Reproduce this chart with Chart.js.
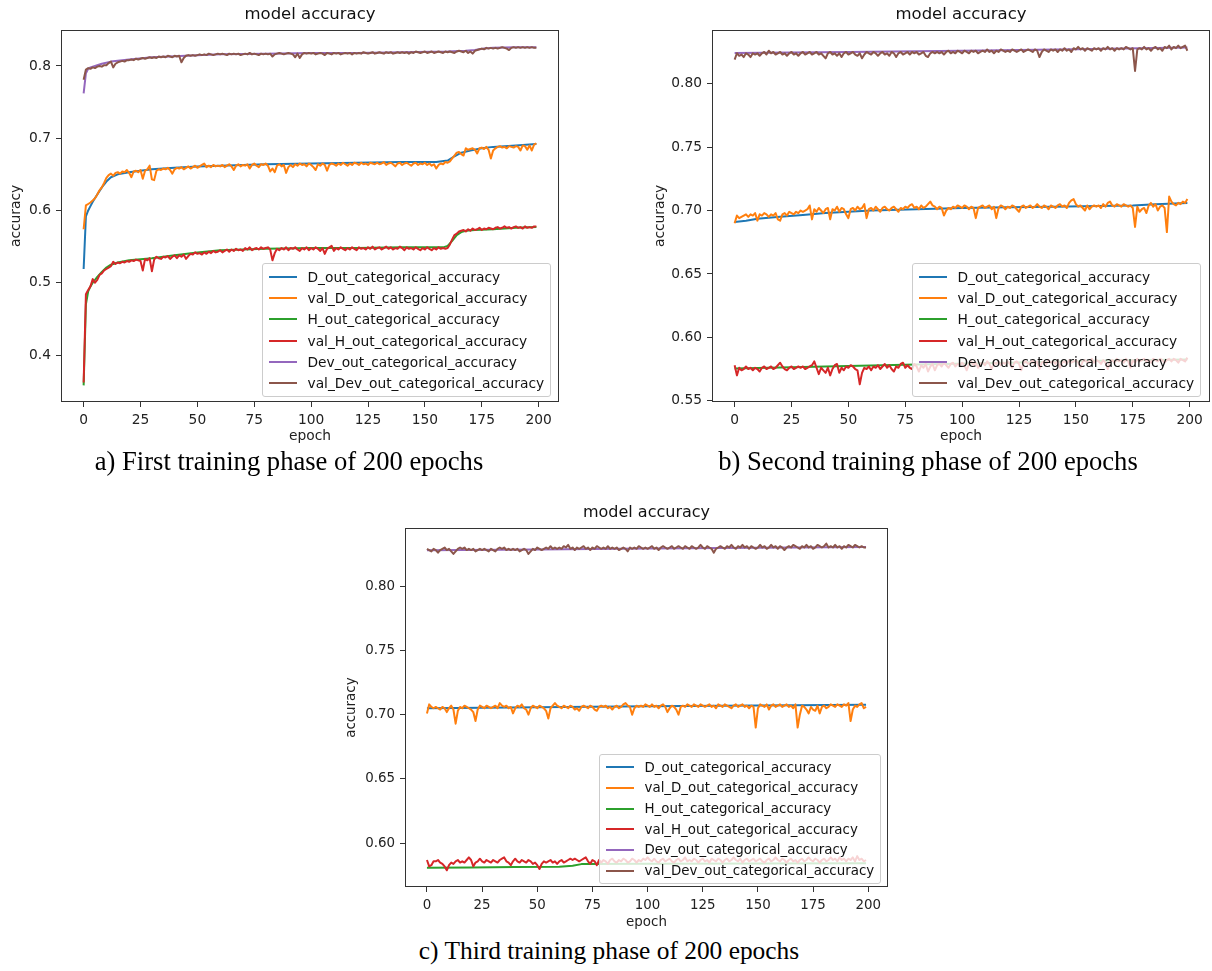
<!DOCTYPE html>
<html>
<head>
<meta charset="utf-8">
<title>model accuracy</title>
<script src="https://cdn.jsdelivr.net/npm/chart.js@4.4.1/dist/chart.umd.min.js"></script>
<style>
  html, body { margin: 0; padding: 0; background: #fff; }
  body { width: 1212px; height: 971px; position: relative; overflow: hidden; }
  canvas { position: absolute; }
  .legend { position: absolute; border: 1px solid #ccc; border-radius: 3px; background: rgba(255,255,255,0.8);
            font-family: 'DejaVu Sans', sans-serif; color: #111; }
  .legend .row { display: flex; align-items: center; white-space: nowrap; }
  .legend .swatch { width: 28px; height: 2px; margin-right: 11px; flex: none; }
  .caption { position: absolute; width: 600px; text-align: center; white-space: nowrap; color: #000;
             font-family: 'Liberation Serif', 'Times New Roman', serif; }
</style>
</head>
<body>
<script>
// ---- shared labels ----
const seriesNames = [
  'D_out_categorical_accuracy', 'val_D_out_categorical_accuracy',
  'H_out_categorical_accuracy', 'val_H_out_categorical_accuracy',
  'Dev_out_categorical_accuracy', 'val_Dev_out_categorical_accuracy'
];
const epochTicks = [0, 25, 50, 75, 100, 125, 150, 175, 200];
const yTicksA = [0.4, 0.5, 0.6, 0.7, 0.8];
const yTicksB = [0.55, 0.60, 0.65, 0.70, 0.75, 0.80];
const yTicksC = [0.60, 0.65, 0.70, 0.75, 0.80];

// ---- a) first training phase ----
const aDTrainEpochs = [0, 1, 2, 3, 4, 6, 8, 10, 12, 15, 20, 25, 30, 40, 50, 60, 80, 100, 120, 140, 155, 160, 163, 166, 170, 175, 180, 190, 199];
const aDTrain = [0.519, 0.592, 0.600, 0.606, 0.612, 0.622, 0.632, 0.640, 0.646, 0.650, 0.653, 0.655, 0.657, 0.659, 0.661, 0.662, 0.664, 0.665, 0.666, 0.667, 0.667, 0.669, 0.675, 0.680, 0.683, 0.686, 0.688, 0.690, 0.692];
const aValD = [
  0.574, 0.607, 0.609, 0.611, 0.614, 0.617, 0.622, 0.628, 0.632, 0.638,
  0.645, 0.649, 0.651, 0.648, 0.652, 0.653, 0.651, 0.654, 0.653, 0.656,
  0.652, 0.646, 0.654, 0.655, 0.653, 0.656, 0.644, 0.655, 0.657, 0.662,
  0.643, 0.642, 0.655, 0.657, 0.656, 0.658, 0.657, 0.659, 0.656, 0.651,
  0.657, 0.659, 0.658, 0.660, 0.657, 0.659, 0.661, 0.658, 0.660, 0.662,
  0.659, 0.661, 0.663, 0.665, 0.660, 0.662, 0.660, 0.663, 0.661, 0.662,
  0.661, 0.663, 0.660, 0.662, 0.664, 0.661, 0.656, 0.662, 0.664, 0.661,
  0.663, 0.662, 0.664, 0.658, 0.663, 0.665, 0.662, 0.660, 0.664, 0.663,
  0.665, 0.662, 0.654, 0.658, 0.653, 0.662, 0.664, 0.661, 0.663, 0.652,
  0.660, 0.663, 0.660, 0.664, 0.662, 0.665, 0.663, 0.664, 0.661, 0.665,
  0.663, 0.660, 0.656, 0.664, 0.662, 0.665, 0.663, 0.655, 0.663, 0.665,
  0.664, 0.662, 0.665, 0.663, 0.666, 0.664, 0.662, 0.665, 0.663, 0.666,
  0.665, 0.663, 0.666, 0.664, 0.665, 0.663, 0.666, 0.665, 0.664, 0.666,
  0.664, 0.665, 0.667, 0.663, 0.665, 0.666, 0.664, 0.661, 0.665, 0.666,
  0.663, 0.665, 0.666, 0.664, 0.662, 0.665, 0.666, 0.663, 0.665, 0.664,
  0.666, 0.663, 0.665, 0.662, 0.664, 0.658, 0.663, 0.665, 0.664, 0.667,
  0.666, 0.668, 0.672, 0.676, 0.680, 0.681, 0.678, 0.676, 0.686, 0.684,
  0.685, 0.686, 0.684, 0.679, 0.686, 0.687, 0.685, 0.688, 0.684, 0.672,
  0.683, 0.686, 0.688, 0.689, 0.687, 0.688, 0.686, 0.689, 0.688, 0.687,
  0.689, 0.688, 0.683, 0.690, 0.689, 0.684, 0.690, 0.683, 0.691, 0.693
];
const aHTrainEpochs = [0, 1, 2, 3, 4, 6, 8, 10, 12, 15, 20, 30, 40, 50, 60, 80, 100, 120, 140, 158, 160, 162, 164, 166, 168, 172, 180, 190, 199];
const aHTrain = [0.358, 0.470, 0.488, 0.495, 0.500, 0.508, 0.515, 0.521, 0.525, 0.528, 0.531, 0.534, 0.538, 0.542, 0.545, 0.547, 0.548, 0.548, 0.549, 0.549, 0.551, 0.558, 0.566, 0.570, 0.572, 0.573, 0.574, 0.576, 0.577];
const aValH = [
  0.362, 0.484, 0.490, 0.495, 0.505, 0.500, 0.504, 0.511, 0.513, 0.517,
  0.519, 0.521, 0.523, 0.529, 0.526, 0.528, 0.527, 0.529, 0.528, 0.530,
  0.529, 0.531, 0.530, 0.532, 0.531, 0.530, 0.517, 0.533, 0.531, 0.534,
  0.516, 0.532, 0.536, 0.534, 0.533, 0.536, 0.535, 0.537, 0.533, 0.536,
  0.538, 0.534, 0.538, 0.536, 0.539, 0.533, 0.537, 0.540, 0.539, 0.542,
  0.540, 0.541, 0.539, 0.542, 0.540, 0.543, 0.541, 0.544, 0.542, 0.543,
  0.545, 0.542, 0.544, 0.546, 0.543, 0.546, 0.544, 0.547, 0.545, 0.546,
  0.544, 0.548, 0.546, 0.549, 0.545, 0.547, 0.548, 0.546, 0.549, 0.547,
  0.548, 0.549, 0.546, 0.531, 0.541, 0.547, 0.545, 0.548, 0.546, 0.549,
  0.545, 0.548, 0.547, 0.549, 0.546, 0.544, 0.548, 0.546, 0.549, 0.545,
  0.548, 0.546, 0.549, 0.547, 0.544, 0.548, 0.540, 0.547, 0.549, 0.551,
  0.544, 0.548, 0.546, 0.549, 0.547, 0.545, 0.548, 0.546, 0.549, 0.547,
  0.545, 0.549, 0.547, 0.548, 0.546, 0.549, 0.547, 0.550, 0.546, 0.548,
  0.549, 0.546, 0.548, 0.550, 0.547, 0.549, 0.546, 0.548, 0.547, 0.550,
  0.548, 0.545, 0.549, 0.547, 0.548, 0.546, 0.549, 0.547, 0.545, 0.548,
  0.546, 0.549, 0.547, 0.545, 0.548, 0.546, 0.549, 0.547, 0.548, 0.547,
  0.548, 0.553, 0.560, 0.566, 0.568, 0.571, 0.572, 0.573, 0.571, 0.574,
  0.572, 0.575, 0.573, 0.574, 0.576, 0.573, 0.575, 0.574, 0.576, 0.575,
  0.574, 0.576, 0.577, 0.575, 0.576, 0.578, 0.576, 0.577, 0.575, 0.577,
  0.578, 0.576, 0.577, 0.575, 0.578, 0.576, 0.577, 0.576, 0.578, 0.578
];
const aDevTrainEpochs = [0, 1, 2, 3, 5, 8, 12, 20, 30, 45, 60, 80, 100, 120, 140, 160, 168, 172, 176, 180, 190, 199];
const aDevTrain = [0.762, 0.790, 0.796, 0.798, 0.800, 0.803, 0.806, 0.809, 0.812, 0.814, 0.816, 0.817, 0.818, 0.818, 0.819, 0.820, 0.821, 0.822, 0.824, 0.825, 0.826, 0.826];
const aValDev = [
  0.781, 0.795, 0.797, 0.796, 0.798, 0.797, 0.799, 0.800, 0.799, 0.801,
  0.801, 0.804, 0.806, 0.798, 0.803, 0.805, 0.806, 0.807, 0.806, 0.808,
  0.808, 0.809, 0.808, 0.810, 0.809, 0.810, 0.811, 0.810, 0.811, 0.812,
  0.811, 0.812, 0.811, 0.813, 0.812, 0.813, 0.812, 0.814, 0.813, 0.812,
  0.814, 0.813, 0.814, 0.805, 0.811, 0.814, 0.815, 0.814, 0.815, 0.814,
  0.815, 0.816, 0.815, 0.816, 0.815, 0.817, 0.816, 0.815, 0.816, 0.817,
  0.816, 0.817, 0.816, 0.815, 0.817, 0.816, 0.817, 0.816, 0.817, 0.815,
  0.816, 0.817, 0.816, 0.818, 0.816, 0.817, 0.816, 0.815, 0.817, 0.816,
  0.817, 0.816, 0.817, 0.813, 0.816, 0.817, 0.818, 0.817, 0.816, 0.817,
  0.818, 0.817, 0.816, 0.812, 0.817, 0.811, 0.816, 0.818, 0.817, 0.818,
  0.817, 0.818, 0.816, 0.817, 0.818, 0.817, 0.815, 0.818, 0.817, 0.816,
  0.818, 0.817, 0.818, 0.816, 0.817, 0.818, 0.817, 0.818, 0.816, 0.818,
  0.817, 0.818, 0.817, 0.819, 0.818, 0.817, 0.818, 0.819, 0.817, 0.818,
  0.819, 0.818, 0.817, 0.819, 0.818, 0.819, 0.817, 0.818, 0.819, 0.818,
  0.819, 0.818, 0.819, 0.817, 0.819, 0.818, 0.820, 0.819, 0.818, 0.819,
  0.820, 0.818, 0.819, 0.820, 0.818, 0.819, 0.820, 0.819, 0.818, 0.820,
  0.819, 0.820, 0.819, 0.818, 0.820, 0.821, 0.820, 0.819, 0.821, 0.818,
  0.820, 0.817, 0.821, 0.822, 0.823, 0.824, 0.823, 0.825, 0.824, 0.825,
  0.824, 0.825, 0.824, 0.825, 0.826, 0.825, 0.824, 0.822, 0.825, 0.826,
  0.825, 0.826, 0.825, 0.826, 0.825, 0.826, 0.825, 0.826, 0.825, 0.825
];

// ---- b) second training phase ----
const bDTrainEpochs = [0, 5, 10, 20, 30, 40, 60, 80, 100, 120, 140, 160, 175, 185, 199];
const bDTrain = [0.691, 0.692, 0.6935, 0.695, 0.6965, 0.698, 0.700, 0.701, 0.702, 0.7025, 0.703, 0.7035, 0.704, 0.705, 0.706];
const bValD = [
  0.690, 0.696, 0.694, 0.695, 0.696, 0.697, 0.695, 0.697, 0.696, 0.698,
  0.692, 0.697, 0.696, 0.698, 0.697, 0.695, 0.697, 0.696, 0.698, 0.693,
  0.692, 0.697, 0.698, 0.696, 0.699, 0.698, 0.697, 0.699, 0.698, 0.700,
  0.699, 0.700, 0.701, 0.704, 0.693, 0.701, 0.699, 0.702, 0.700, 0.698,
  0.701, 0.702, 0.693, 0.701, 0.700, 0.703, 0.699, 0.702, 0.701, 0.697,
  0.694, 0.701, 0.702, 0.700, 0.703, 0.701, 0.702, 0.705, 0.694, 0.701,
  0.702, 0.700, 0.703, 0.701, 0.699, 0.702, 0.703, 0.701, 0.700, 0.702,
  0.703, 0.701, 0.699, 0.702, 0.701, 0.703, 0.702, 0.704, 0.705, 0.702,
  0.703, 0.701, 0.704, 0.702, 0.703, 0.705, 0.707, 0.704, 0.703, 0.701,
  0.703, 0.702, 0.696, 0.700, 0.702, 0.701, 0.703, 0.702, 0.704, 0.703,
  0.702, 0.704, 0.703, 0.701, 0.703, 0.702, 0.694, 0.702, 0.703, 0.704,
  0.702, 0.703, 0.704, 0.701, 0.703, 0.694, 0.702, 0.704, 0.703, 0.701,
  0.703, 0.702, 0.704, 0.703, 0.701, 0.699, 0.703, 0.704, 0.702, 0.703,
  0.704, 0.702, 0.703, 0.705, 0.703, 0.702, 0.704, 0.703, 0.701, 0.704,
  0.703, 0.702, 0.704, 0.705, 0.703, 0.704, 0.702, 0.706, 0.708, 0.709,
  0.705, 0.703, 0.704, 0.702, 0.700, 0.704, 0.701, 0.703, 0.704, 0.703,
  0.704, 0.702, 0.705, 0.703, 0.706, 0.707, 0.704, 0.703, 0.705, 0.704,
  0.703, 0.705, 0.704, 0.703, 0.704, 0.702, 0.687, 0.703, 0.699, 0.701,
  0.702, 0.698, 0.704, 0.706, 0.703, 0.705, 0.700, 0.703, 0.704, 0.702,
  0.683, 0.711, 0.707, 0.705, 0.704, 0.706, 0.705, 0.707, 0.706, 0.709
];
const bHTrainEpochs = [0, 40, 80, 120, 160, 199];
const bHTrain = [0.5755, 0.577, 0.5785, 0.580, 0.5815, 0.5825];
const bValH = [
  0.578, 0.570, 0.576, 0.574, 0.575, 0.577, 0.575, 0.576, 0.574, 0.576,
  0.575, 0.573, 0.576, 0.577, 0.575, 0.576, 0.577, 0.575, 0.576, 0.578,
  0.580, 0.577, 0.575, 0.574, 0.576, 0.577, 0.575, 0.576, 0.577, 0.576,
  0.577, 0.575, 0.576, 0.577, 0.578, 0.581, 0.576, 0.571, 0.576, 0.574,
  0.572, 0.576, 0.570, 0.575, 0.578, 0.579, 0.572, 0.576, 0.574, 0.577,
  0.576, 0.578, 0.577, 0.575, 0.574, 0.563, 0.572, 0.576, 0.575, 0.577,
  0.574, 0.577, 0.576, 0.578, 0.575, 0.577, 0.579, 0.576, 0.578, 0.575,
  0.573, 0.577, 0.576, 0.579, 0.580, 0.576, 0.578, 0.576, 0.575, 0.579,
  0.577, 0.573, 0.578, 0.576, 0.579, 0.573, 0.577, 0.579, 0.574, 0.578,
  0.579, 0.577, 0.580, 0.578, 0.576, 0.579, 0.580, 0.577, 0.579, 0.578,
  0.580, 0.578, 0.574, 0.579, 0.581, 0.578, 0.580, 0.576, 0.579, 0.580,
  0.578, 0.581, 0.579, 0.575, 0.580, 0.579, 0.581, 0.578, 0.580, 0.579,
  0.581, 0.579, 0.576, 0.580, 0.581, 0.579, 0.574, 0.580, 0.581, 0.579,
  0.580, 0.582, 0.579, 0.581, 0.575, 0.580, 0.581, 0.579, 0.582, 0.580,
  0.581, 0.579, 0.582, 0.576, 0.580, 0.581, 0.579, 0.582, 0.580, 0.581,
  0.582, 0.580, 0.576, 0.581, 0.582, 0.580, 0.581, 0.583, 0.580, 0.582,
  0.581, 0.579, 0.582, 0.580, 0.575, 0.581, 0.582, 0.580, 0.583, 0.581,
  0.582, 0.580, 0.583, 0.581, 0.576, 0.582, 0.580, 0.583, 0.581, 0.582,
  0.583, 0.581, 0.582, 0.580, 0.583, 0.582, 0.581, 0.583, 0.582, 0.580,
  0.582, 0.583, 0.581, 0.583, 0.582, 0.580, 0.583, 0.582, 0.581, 0.584
];
const bDevTrainEpochs = [0, 50, 100, 150, 199];
const bDevTrain = [0.8243, 0.8250, 0.8260, 0.8272, 0.8285];
const bValDev = [
  0.819, 0.824, 0.822, 0.823, 0.821, 0.824, 0.823, 0.821, 0.824, 0.823,
  0.824, 0.822, 0.824, 0.825, 0.823, 0.826, 0.824, 0.825, 0.823, 0.824,
  0.825, 0.823, 0.824, 0.822, 0.824, 0.825, 0.823, 0.824, 0.822, 0.824,
  0.825, 0.823, 0.824, 0.825, 0.823, 0.824, 0.825, 0.823, 0.824, 0.822,
  0.820, 0.824, 0.825, 0.823, 0.824, 0.822, 0.824, 0.821, 0.824, 0.825,
  0.823, 0.824, 0.825, 0.823, 0.822, 0.824, 0.820, 0.823, 0.825, 0.824,
  0.823, 0.825, 0.824, 0.822, 0.824, 0.825, 0.823, 0.824, 0.822, 0.825,
  0.824, 0.821, 0.824, 0.825, 0.823, 0.824, 0.825, 0.823, 0.825, 0.824,
  0.825, 0.823, 0.824, 0.825, 0.822, 0.821, 0.824, 0.825, 0.824, 0.825,
  0.824, 0.825, 0.823, 0.825, 0.826, 0.824, 0.825, 0.824, 0.826, 0.825,
  0.824, 0.826, 0.825, 0.824, 0.826, 0.825, 0.826, 0.824, 0.825, 0.826,
  0.825, 0.827, 0.825, 0.826, 0.824, 0.826, 0.825, 0.827, 0.826, 0.825,
  0.826, 0.825, 0.827, 0.826, 0.825, 0.826, 0.827, 0.825, 0.826, 0.827,
  0.826, 0.825, 0.827, 0.826, 0.821, 0.825, 0.827, 0.826, 0.825, 0.827,
  0.826, 0.827, 0.825, 0.827, 0.826, 0.828, 0.826, 0.827, 0.825, 0.828,
  0.827, 0.829, 0.827, 0.828, 0.826, 0.828, 0.827, 0.826, 0.828, 0.827,
  0.828, 0.826, 0.828, 0.827, 0.829, 0.827, 0.828, 0.826, 0.828, 0.827,
  0.828, 0.827, 0.829, 0.828, 0.827, 0.828, 0.810, 0.827, 0.828, 0.827,
  0.829, 0.827, 0.828, 0.826, 0.828, 0.829, 0.827, 0.828, 0.826, 0.829,
  0.828, 0.830, 0.827, 0.829, 0.828, 0.830, 0.828, 0.829, 0.830, 0.826
];

// ---- c) third training phase ----
const cDTrainEpochs = [0, 50, 100, 150, 199];
const cDTrain = [0.7050, 0.7058, 0.7066, 0.7072, 0.7078];
const cValD = [
  0.701, 0.708, 0.706, 0.705, 0.706, 0.705, 0.704, 0.706, 0.705, 0.702,
  0.705, 0.707, 0.704, 0.693, 0.703, 0.706, 0.705, 0.707, 0.706, 0.705,
  0.704, 0.702, 0.695, 0.704, 0.707, 0.706, 0.705, 0.707, 0.706, 0.705,
  0.706, 0.707, 0.705, 0.709, 0.707, 0.706, 0.707, 0.705, 0.706, 0.701,
  0.705, 0.707, 0.706, 0.708, 0.705, 0.704, 0.700, 0.705, 0.707, 0.706,
  0.705, 0.707, 0.706, 0.705, 0.703, 0.697, 0.705, 0.707, 0.709, 0.707,
  0.706, 0.705, 0.707, 0.706, 0.705, 0.707, 0.706, 0.704, 0.705, 0.703,
  0.706, 0.707, 0.706, 0.705, 0.707, 0.706, 0.704, 0.703, 0.706, 0.707,
  0.706, 0.707, 0.705, 0.706, 0.704, 0.706, 0.707, 0.705, 0.706, 0.708,
  0.709, 0.707, 0.706, 0.700, 0.705, 0.707, 0.706, 0.707, 0.706, 0.708,
  0.707, 0.706, 0.708, 0.706, 0.707, 0.705, 0.707, 0.708, 0.706, 0.702,
  0.705, 0.707, 0.706, 0.704, 0.700, 0.706, 0.707, 0.706, 0.708, 0.707,
  0.706, 0.708, 0.707, 0.706, 0.708, 0.707, 0.706, 0.707, 0.708, 0.706,
  0.707, 0.705, 0.708, 0.707, 0.706, 0.708, 0.707, 0.706, 0.705, 0.707,
  0.708, 0.706, 0.707, 0.708, 0.706, 0.707, 0.705, 0.707, 0.706, 0.690,
  0.705, 0.708, 0.707, 0.706, 0.708, 0.704, 0.707, 0.708, 0.706, 0.707,
  0.708, 0.706, 0.707, 0.708, 0.706, 0.707, 0.705, 0.708, 0.690, 0.700,
  0.707, 0.706, 0.704, 0.701, 0.706, 0.704, 0.703, 0.707, 0.701, 0.706,
  0.707, 0.705, 0.706, 0.708, 0.707, 0.706, 0.708, 0.707, 0.706, 0.708,
  0.707, 0.709, 0.695, 0.704, 0.707, 0.706, 0.708, 0.709, 0.705, 0.706
];
const cHTrainEpochs = [0, 20, 40, 60, 66, 70, 100, 150, 199];
const cHTrain = [0.5810, 0.5812, 0.5815, 0.5818, 0.5825, 0.5838, 0.5840, 0.5842, 0.5845];
const cValH = [
  0.587, 0.582, 0.583, 0.586, 0.586, 0.587, 0.585, 0.584, 0.582, 0.579,
  0.583, 0.585, 0.584, 0.586, 0.587, 0.585, 0.586, 0.585, 0.587, 0.589,
  0.587, 0.582, 0.585, 0.586, 0.588, 0.586, 0.585, 0.587, 0.586, 0.585,
  0.587, 0.586, 0.585, 0.587, 0.588, 0.589, 0.586, 0.585, 0.583, 0.586,
  0.588, 0.586, 0.585, 0.587, 0.586, 0.585, 0.587, 0.586, 0.584, 0.585,
  0.583, 0.580, 0.584, 0.586, 0.585, 0.586, 0.587, 0.585, 0.586, 0.584,
  0.586, 0.587, 0.585, 0.586, 0.587, 0.588, 0.587, 0.588, 0.587, 0.586,
  0.587, 0.588, 0.589, 0.586, 0.584, 0.587, 0.586, 0.583, 0.587, 0.585,
  0.587, 0.586, 0.584, 0.587, 0.588, 0.586, 0.585, 0.587, 0.586, 0.588,
  0.587, 0.585, 0.586, 0.588, 0.587, 0.585, 0.587, 0.586, 0.588, 0.587,
  0.589, 0.587, 0.586, 0.588, 0.586, 0.585, 0.587, 0.588, 0.586, 0.587,
  0.588, 0.586, 0.585, 0.587, 0.588, 0.586, 0.587, 0.589, 0.586, 0.587,
  0.586, 0.588, 0.587, 0.585, 0.587, 0.588, 0.586, 0.587, 0.585, 0.588,
  0.587, 0.586, 0.588, 0.587, 0.585, 0.587, 0.588, 0.586, 0.587, 0.589,
  0.587, 0.586, 0.588, 0.585, 0.587, 0.588, 0.586, 0.587, 0.588, 0.586,
  0.587, 0.588, 0.586, 0.585, 0.587, 0.588, 0.586, 0.587, 0.589, 0.587,
  0.586, 0.588, 0.587, 0.585, 0.587, 0.588, 0.586, 0.587, 0.585, 0.587,
  0.588, 0.586, 0.587, 0.589, 0.587, 0.586, 0.588, 0.587, 0.585, 0.587,
  0.588, 0.586, 0.587, 0.589, 0.587, 0.588, 0.586, 0.589, 0.587, 0.588,
  0.586, 0.588, 0.587, 0.589, 0.586, 0.590, 0.587, 0.588, 0.586, 0.587
];
const cDevTrainEpochs = [0, 50, 100, 150, 199];
const cDevTrain = [0.8278, 0.8285, 0.8292, 0.8298, 0.8303];
const cValDev = [
  0.829, 0.828, 0.827, 0.829, 0.828, 0.826, 0.828, 0.829, 0.830, 0.828,
  0.829, 0.827, 0.825, 0.827, 0.829, 0.830, 0.829, 0.830, 0.828, 0.829,
  0.828, 0.829, 0.827, 0.828, 0.829, 0.828, 0.829, 0.828, 0.827, 0.829,
  0.828, 0.827, 0.829, 0.830, 0.829, 0.830, 0.828, 0.829, 0.828, 0.829,
  0.828, 0.829, 0.827, 0.828, 0.829, 0.828, 0.825, 0.827, 0.829, 0.828,
  0.830, 0.829, 0.828, 0.829, 0.830, 0.829, 0.831, 0.829, 0.830, 0.829,
  0.830, 0.829, 0.831, 0.830, 0.832, 0.829, 0.830, 0.828, 0.830, 0.829,
  0.830, 0.831, 0.829, 0.830, 0.828, 0.830, 0.829, 0.831, 0.830, 0.829,
  0.830, 0.829, 0.831, 0.829, 0.830, 0.829, 0.830, 0.828, 0.829, 0.830,
  0.829, 0.827, 0.830, 0.829, 0.830, 0.829, 0.831, 0.830, 0.829, 0.830,
  0.829, 0.830, 0.831, 0.829, 0.830, 0.828, 0.830, 0.831, 0.830, 0.829,
  0.830, 0.831, 0.829, 0.830, 0.831, 0.830, 0.829, 0.831, 0.830, 0.829,
  0.831, 0.830, 0.829, 0.830, 0.832, 0.830, 0.829, 0.831, 0.830, 0.829,
  0.826, 0.829, 0.830, 0.831, 0.830, 0.829, 0.831, 0.830, 0.832, 0.830,
  0.829, 0.831, 0.830, 0.832, 0.830, 0.831, 0.829, 0.831, 0.830, 0.829,
  0.830, 0.832, 0.830, 0.831, 0.829, 0.830, 0.832, 0.830, 0.831, 0.829,
  0.831, 0.830, 0.828, 0.830, 0.831, 0.830, 0.832, 0.831, 0.830, 0.829,
  0.831, 0.830, 0.832, 0.830, 0.831, 0.829, 0.830, 0.832, 0.831, 0.830,
  0.831, 0.833, 0.830, 0.831, 0.830, 0.832, 0.830, 0.831, 0.829, 0.831,
  0.830, 0.832, 0.831, 0.830, 0.832, 0.831, 0.830, 0.831, 0.830, 0.830
];

// matplotlib tab10 colours, same order as seriesNames
const seriesColors = ['#1f77b4', '#ff7f0e', '#2ca02c', '#d62728', '#9467bd', '#8c564b'];

Chart.defaults.font.family = "'DejaVu Sans', sans-serif";
Chart.defaults.color = '#222';

// full box around the plot area, like matplotlib spines
const frame = {
  id: 'frame',
  afterDraw(chart) {
    const { ctx, chartArea: a } = chart;
    ctx.save();
    ctx.strokeStyle = '#333';
    ctx.lineWidth = 1;
    ctx.strokeRect(Math.round(a.left) + 0.5, Math.round(a.top) + 0.5,
                   Math.round(a.right - a.left) - 1, Math.round(a.bottom - a.top) - 1);
    ctx.restore();
  }
};

function series(epochs, values) {
  return values.map((v, k) => ({ x: epochs ? epochs[k] : k, y: v }));
}

function buildPanel(p) {
  const canvas = document.createElement('canvas');
  canvas.width = p.w;
  canvas.height = p.h;
  canvas.style.left = p.left + 'px';
  canvas.style.top = p.top + 'px';
  document.body.appendChild(canvas);

  const datasets = p.lines.map((pts, i) => ({
    label: seriesNames[i],
    data: pts,
    borderColor: seriesColors[i],
    backgroundColor: seriesColors[i],
    borderWidth: 2,
    pointRadius: 0,
    fill: false,
    tension: 0,
    borderJoinStyle: 'round',
    order: 5 - i   // later series on top, as in matplotlib
  }));

  new Chart(canvas, {
    type: 'line',
    data: { datasets },
    options: {
      responsive: false,
      animation: false,
      devicePixelRatio: 1,
      events: [],
      layout: { padding: { left: 0, right: p.padRight, top: 0, bottom: 0 } },
      plugins: {
        legend: { display: false },
        tooltip: { enabled: false },
        title: {
          display: true, text: 'model accuracy', fullSize: false, color: '#111',
          font: { size: p.titleSize, weight: 'normal', lineHeight: 1.2 },
          padding: { top: p.titlePad, bottom: p.titlePad }
        }
      },
      scales: {
        x: {
          type: 'linear', min: -9.95, max: 208.95,
          afterBuildTicks: s => { s.ticks = epochTicks.map(v => ({ value: v })); },
          afterFit: s => { s.height = p.xH; },
          ticks: { color: '#222', font: { size: p.font }, padding: 5, maxRotation: 0, autoSkip: false,
                   callback: v => String(v) },
          grid: { drawOnChartArea: false, drawTicks: true, tickLength: 5, color: '#333' },
          border: { display: false },
          title: { display: true, text: 'epoch', color: '#222', font: { size: p.font },
                   padding: { top: 0, bottom: 5 } }
        },
        y: {
          type: 'linear', min: p.yMin, max: p.yMax,
          afterBuildTicks: s => { s.ticks = p.yTicks.map(v => ({ value: v })); },
          afterFit: s => { s.width = p.yW; },
          ticks: { color: '#222', font: { size: p.font }, padding: 5, autoSkip: false,
                   callback: v => v.toFixed(p.dec) },
          grid: { drawOnChartArea: false, drawTicks: true, tickLength: 5, color: '#333' },
          border: { display: false },
          title: { display: true, text: 'accuracy', color: '#222', font: { size: p.font },
                   padding: { top: p.yTitlePad, bottom: 0 } }
        }
      }
    },
    plugins: [frame]
  });

  // legend box inside the axes, lower right
  const box = document.createElement('div');
  box.className = 'legend';
  box.style.left = p.legLeft + 'px';
  box.style.top = p.legTop + 'px';
  box.style.fontSize = p.font + 'px';
  box.style.padding = p.legPadV + 'px 5.5px';
  seriesNames.forEach((name, i) => {
    const row = document.createElement('div');
    row.className = 'row';
    row.style.height = p.legRow + 'px';
    const sw = document.createElement('span');
    sw.className = 'swatch';
    sw.style.background = seriesColors[i];
    const tx = document.createElement('span');
    tx.textContent = name;
    row.append(sw, tx);
    box.appendChild(row);
  });
  document.body.appendChild(box);

  const cap = document.createElement('div');
  cap.className = 'caption';
  cap.textContent = p.caption;
  cap.style.left = (p.capX - 300) + 'px';
  cap.style.top = p.capTop + 'px';
  cap.style.fontSize = p.capSize + 'px';
  cap.style.lineHeight = p.capSize + 'px';
  document.body.appendChild(cap);
}

buildPanel({
  left: 0, top: 0, w: 565, h: 450, yW: 61, xH: 48, padRight: 6,
  font: 13.8, titleSize: 16.5, titlePad: 5, yTitlePad: 8,
  yMin: 0.335, yMax: 0.85, yTicks: yTicksA, dec: 1,
  lines: [series(aDTrainEpochs, aDTrain), series(null, aValD), series(aHTrainEpochs, aHTrain),
          series(null, aValH), series(aDevTrainEpochs, aDevTrain), series(null, aValDev)],
  legLeft: 262, legTop: 263, legRow: 21.2, legPadV: 2.4,
  caption: 'a) First training phase of 200 epochs', capX: 289, capTop: 448, capSize: 26.6
});

buildPanel({
  left: 640, top: 0, w: 572, h: 450, yW: 72, xH: 48, padRight: 2,
  font: 13.8, titleSize: 16.5, titlePad: 5, yTitlePad: 12,
  yMin: 0.549, yMax: 0.8425, yTicks: yTicksB, dec: 2,
  lines: [series(bDTrainEpochs, bDTrain), series(null, bValD), series(bHTrainEpochs, bHTrain),
          series(null, bValH), series(bDevTrainEpochs, bDevTrain), series(null, bValDev)],
  legLeft: 912, legTop: 263, legRow: 21.2, legPadV: 2.4,
  caption: 'b) Second training phase of 200 epochs', capX: 928, capTop: 448, capSize: 26.6
});

buildPanel({
  left: 340, top: 498, w: 554, h: 438, yW: 65, xH: 49, padRight: 6,
  font: 13.4, titleSize: 16, titlePad: 5.5, yTitlePad: 3,
  yMin: 0.566, yMax: 0.845, yTicks: yTicksC, dec: 2,
  lines: [series(cDTrainEpochs, cDTrain), series(null, cValD), series(cHTrainEpochs, cHTrain),
          series(null, cValH), series(cDevTrainEpochs, cDevTrain), series(null, cValDev)],
  legLeft: 599, legTop: 754, legRow: 20.7, legPadV: 1.8,
  caption: 'c) Third training phase of 200 epochs', capX: 609, capTop: 938, capSize: 25.4
});
</script>
</body>
</html>
